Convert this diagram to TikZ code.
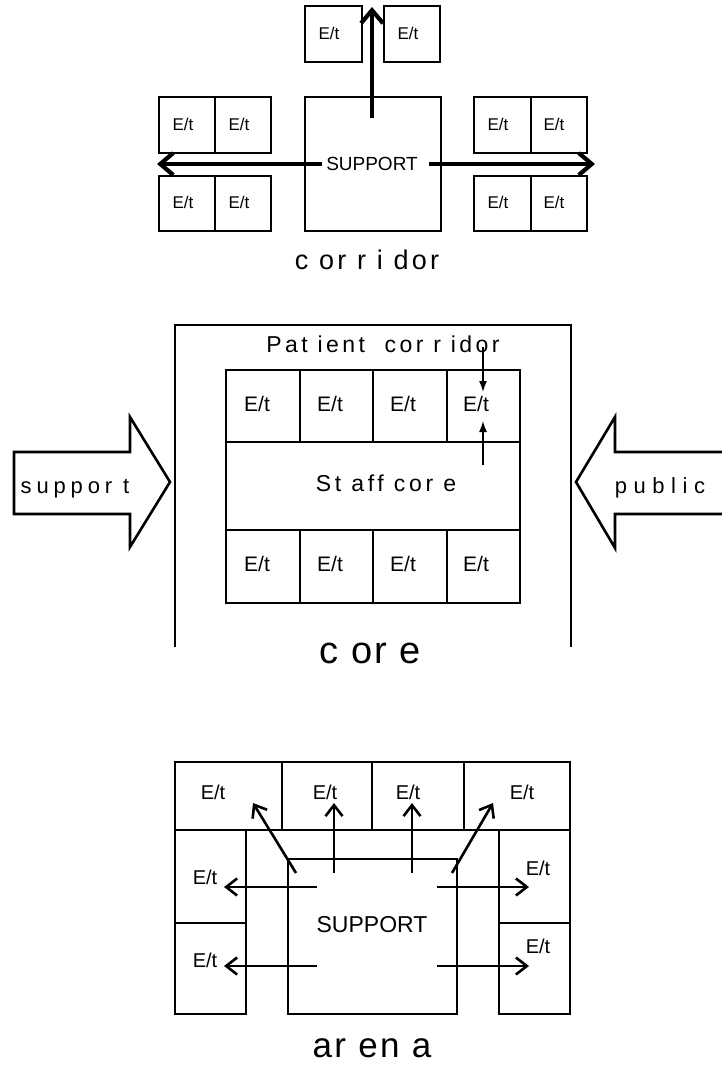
\documentclass[tikz,border=0pt]{standalone}
\usepackage{fontspec}
\setmainfont{Liberation Sans}
\usetikzlibrary{arrows.meta}
\tikzset{
  wall/.style={draw, line width=2pt, line join=miter},
  thick arrow/.style={line width=4.2pt, -{Straight Barb[length=13pt,width=22pt,line width=4.2pt]}},
  mid arrow/.style={line width=2.6pt, -{Straight Barb[length=11pt,width=17pt,line width=2.6pt]}},
  thin arrow/.style={line width=1.4pt, -{Latex[length=11pt,width=8pt]}},
  blockarrow/.style={draw, line width=2.6pt, line join=miter},
  lab/.style={inner sep=0pt, font=\fontsize{#1}{#1}\selectfont},
  lab/.default=15,
  slab/.style 2 args={inner sep=0pt, anchor=base, font=\fontsize{#1}{#1}\selectfont\addfontfeature{LetterSpace=#2}},
}
\begin{document}
\begin{tikzpicture}[x=1pt,y=-1pt]
\useasboundingbox (0,0) rectangle (722,1065);

% ================= corridor =================
\draw[wall] (305,6) rectangle (362,62);
\draw[wall] (384,6) rectangle (440,62);
\draw[wall] (305,97) rectangle (441,231);
\draw[wall] (159,97) rectangle (271,153) (215,97) -- (215,153);
\draw[wall] (159,176) rectangle (271,231) (215,176) -- (215,231);
\draw[wall] (474,97) rectangle (587,153) (531,97) -- (531,153);
\draw[wall] (474,176) rectangle (587,231) (531,176) -- (531,231);

\node[lab=17] (ct1) at (329,33) {E/t};
\node[lab=17] (ct2) at (408,33) {E/t};
\node[lab=17] (cl1) at (183,124) {E/t};
\node[lab=17] (cl2) at (239,124) {E/t};
\node[lab=17] (cl3) at (183,202) {E/t};
\node[lab=17] (cl4) at (239,202) {E/t};
\node[lab=17] (cr1) at (498,124) {E/t};
\node[lab=17] (cr2) at (554,124) {E/t};
\node[lab=17] (cr3) at (498,202) {E/t};
\node[lab=17] (cr4) at (554,202) {E/t};
\node[lab=19] (csup) at (372,164) {SUPPORT};

\coordinate (cup0) at (372,118);
\coordinate (cup1) at (372,7);
\coordinate (cle0) at (322,164);
\coordinate (cle1) at (157,164);
\coordinate (cri0) at (429,164);
\coordinate (cri1) at (595,164);
\draw[thick arrow] (cup0) -- (cup1);
\draw[thick arrow] (cle0) -- (cle1);
\draw[thick arrow] (cri0) -- (cri1);

\node[slab={27}{12}] (corridor) at (367,269) {c or r i dor};

% ================= core =================
\draw[wall, line width=2.5pt] (175,647) -- (175,325) -- (571,325) -- (571,647);
\draw[wall] (226,370) rectangle (520,603);
\draw[wall] (226,442) -- (520,442) (226,530) -- (520,530);
\draw[wall] (300,370) -- (300,442) (373,370) -- (373,442) (447,370) -- (447,442);
\draw[wall] (300,530) -- (300,603) (373,530) -- (373,603) (447,530) -- (447,603);

\node[slab={23}{15}] (patient) at (383,352) {Pat ient \ cor r idor};
\node[slab={23}{16}] (staff) at (386,491) {St aff cor e};

\foreach \x [count=\i] in {257,330,403,476}{
  \node[lab=21] (kt\i) at (\x,404) {E/t};
  \node[lab=21] (kb\i) at (\x,564) {E/t};
}

\coordinate (pa0) at (483,347);
\coordinate (pa1) at (483,392);
\coordinate (pb0) at (483,465);
\coordinate (pb1) at (483,421);
\draw[thin arrow] (pa0) -- (pa1);
\draw[thin arrow] (pb0) -- (pb1);

\draw[blockarrow] (14,452) -- (130,452) -- (130,417) -- (170,482) -- (130,547) -- (130,514) -- (14,514) -- cycle;
\draw[blockarrow] (723,452) -- (615,452) -- (615,417) -- (576,482) -- (615,548) -- (615,514) -- (723,514);
\node[slab={22}{22}] (supp) at (75,493) {suppor t};
\node[slab={22}{30}] (publ) at (660,493) {public};

\node[slab={38}{5}] (core) at (370,663) {c or e};

% ================= arena =================
\draw[wall] (175,762) rectangle (570,830);
\draw[wall] (282,762) -- (282,830) (372,762) -- (372,830) (464,762) -- (464,830);
\draw[wall] (175,830) rectangle (246,1014) (175,923) -- (246,923);
\draw[wall] (499,830) rectangle (570,1014) (499,923) -- (570,923);
\draw[wall] (288,859) rectangle (457,1014);

\node[lab=23] (asup) at (372,925) {SUPPORT};
\node[lab=20] (at1) at (213,792) {E/t};
\node[lab=20] (at2) at (325,792) {E/t};
\node[lab=20] (at3) at (408,792) {E/t};
\node[lab=20] (at4) at (522,792) {E/t};
\node[lab=20] (al1) at (205,877) {E/t};
\node[lab=20] (al2) at (205,960) {E/t};
\node[lab=20] (ar1) at (538,868) {E/t};
\node[lab=20] (ar2) at (538,946) {E/t};

\coordinate (d10) at (296,873); \coordinate (d11) at (253,803);
\coordinate (d20) at (334,873); \coordinate (d21) at (334,803);
\coordinate (d30) at (412,873); \coordinate (d31) at (412,803);
\coordinate (d40) at (452,873); \coordinate (d41) at (493,803);
\coordinate (h10) at (317,887); \coordinate (h11) at (224,887);
\coordinate (h20) at (317,966); \coordinate (h21) at (224,966);
\coordinate (h30) at (437,887); \coordinate (h31) at (529,887);
\coordinate (h40) at (437,966); \coordinate (h41) at (529,966);
\foreach \a in {d1,d2,d3,d4,h1,h2,h3,h4}{
  \draw[mid arrow] (\a0) -- (\a1);
}

\node[slab={35}{7}] (arena) at (372,1057) {ar en a};
\end{tikzpicture}
\end{document}
